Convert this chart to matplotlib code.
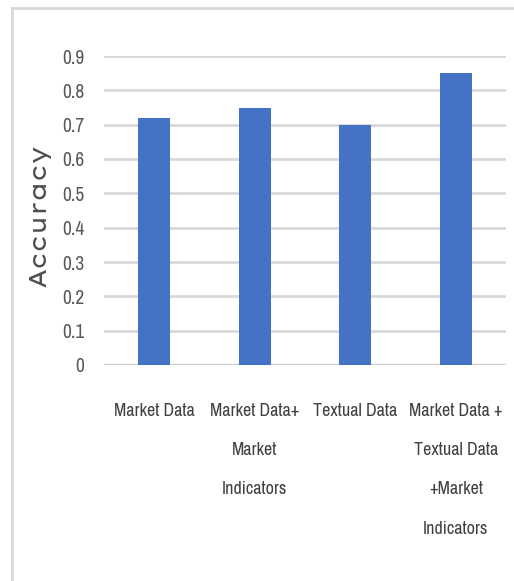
import matplotlib
matplotlib.use("Agg")
import matplotlib.pyplot as plt
from matplotlib.font_manager import fontManager
from matplotlib.lines import Line2D

categories = ["Market Data", "Market Data+\nMarket\nIndicators", "Textual Data",
              "Market Data +\nTextual Data\n+Market\nIndicators"]
accuracy = [0.72, 0.75, 0.70, 0.85]
yticks = [0, 0.1, 0.2, 0.3, 0.4, 0.5, 0.6, 0.7, 0.8, 0.9]
ytick_labels = ["0", "0.1", "0.2", "0.3", "0.4", "0.5", "0.6", "0.7", "0.8", "0.9"]

names = {f.name for f in fontManager.ttflist}
def pick(*cands):
    for c in cands:
        if c in names:
            return c
    return "DejaVu Sans"
narrow = pick("Archivo Narrow", "PT Sans Narrow", "Roboto Condensed", "DejaVu Sans")
wide = pick("Lexend Giga", "Lexend Exa", "Encode Sans Expanded", "DejaVu Sans")

fig = plt.figure(figsize=(5.14, 5.81), dpi=100)
# outer frame
fig.add_artist(Line2D([12/514, 12/514], [0, 1 - 8/581], color="#d9d9d9", lw=2, transform=fig.transFigure))
fig.add_artist(Line2D([12/514, 1], [1 - 8/581, 1 - 8/581], color="#d9d9d9", lw=2, transform=fig.transFigure))

ax = fig.add_axes([104/514, 1 - 365/581, 402/514, 309/581])
x = list(range(len(categories)))
ax.bar(x, accuracy, width=0.32, color="#4472c4", zorder=3)
ax.set_xlim(-0.5, 3.5)
ax.set_ylim(0, 0.9)
ax.set_yticks(yticks)
ax.set_yticklabels(ytick_labels, fontfamily=narrow, fontsize=14, color="#595959")
ax.set_xticks(x)
ax.set_xticklabels(categories, fontfamily=narrow, fontsize=13, color="#404040", linespacing=2.8)
ax.tick_params(length=0)
ax.tick_params(axis="y", pad=14)
ax.tick_params(axis="x", pad=27)
ax.grid(axis="y", color="#d9d9d9", lw=2, zorder=0)
for s in ax.spines.values():
    s.set_visible(False)
ax.axhline(0, color="#d0d0d0", lw=2.5, zorder=2)
ax.set_ylabel("Accuracy", fontsize=17, color="#4d4d4d", fontfamily=wide, fontweight=500)
ax.yaxis.set_label_coords(-0.132, 0.485)

fig.savefig("out.png", dpi=100)
